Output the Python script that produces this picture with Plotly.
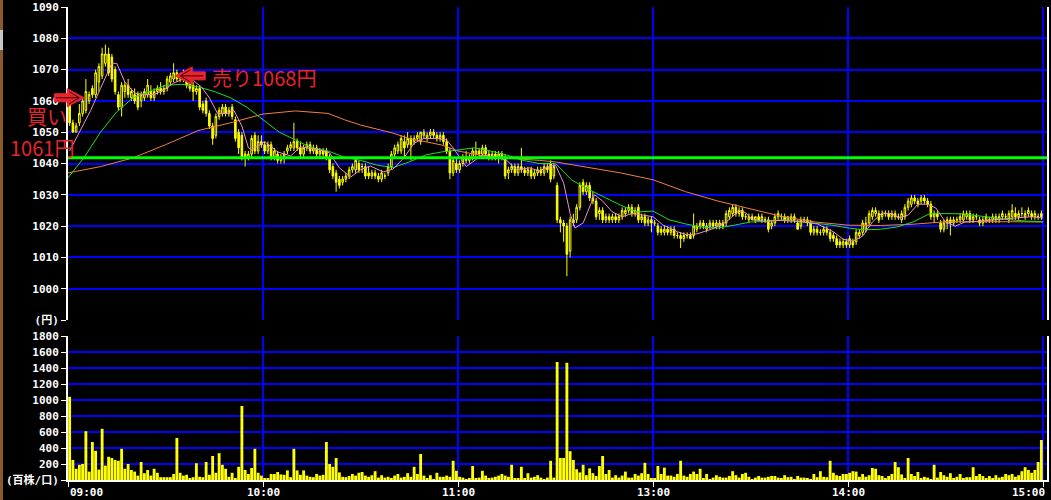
import numpy as np
import plotly.graph_objs as go

# 1分足 09:00-11:30 / 12:30-15:00 (昼休みは詰めて表示) -> 0..299 分
open_ = [
    1059, 1053, 1050, 1053, 1056, 1057, 1060, 1064, 1062, 1066,
    1068, 1072, 1075, 1074, 1070, 1062, 1058, 1063, 1065, 1061,
    1062, 1062, 1060, 1061, 1062, 1063, 1061, 1063, 1064, 1063,
    1064, 1066, 1067, 1069, 1067, 1068, 1067, 1066, 1065, 1063,
    1064, 1059, 1060, 1056, 1052, 1049, 1055, 1056, 1058, 1056,
    1058, 1054, 1050, 1049, 1043, 1042, 1043, 1049, 1044, 1047,
    1046, 1044, 1046, 1042, 1043, 1041, 1042, 1044, 1045, 1045,
    1047, 1045, 1043, 1045, 1046, 1044, 1045, 1043, 1044, 1044,
    1042, 1039, 1037, 1035, 1034, 1035, 1036, 1038, 1038, 1040,
    1039, 1039, 1037, 1036, 1037, 1036, 1035, 1036, 1037, 1039,
    1043, 1044, 1044, 1047, 1046, 1048, 1047, 1048, 1047, 1049,
    1048, 1049, 1050, 1049, 1048, 1049, 1047, 1044, 1037, 1040,
    1038, 1040, 1042, 1041, 1042, 1043, 1044, 1043, 1045, 1043,
    1042, 1043, 1042, 1043, 1042, 1037, 1038, 1039, 1037, 1039,
    1038, 1037, 1038, 1036, 1037, 1038, 1037, 1039, 1040, 1036,
    1033, 1022, 1021, 1020, 1012, 1022, 1022, 1026, 1034, 1031,
    1033, 1029, 1028, 1024, 1025, 1022, 1023, 1022, 1023, 1022,
    1023, 1024, 1025, 1026, 1024, 1026, 1022, 1023, 1021, 1022,
    1021, 1020, 1019, 1018, 1019, 1018, 1019, 1017, 1017, 1016,
    1017, 1017, 1017, 1019, 1020, 1021, 1019, 1020, 1021, 1020,
    1020, 1021, 1021, 1023, 1024, 1026, 1024, 1025, 1023, 1022,
    1023, 1022, 1023, 1022, 1022, 1022, 1020, 1021, 1023, 1023,
    1023, 1022, 1022, 1023, 1021, 1020, 1022, 1022, 1021, 1018,
    1019, 1018, 1018, 1019, 1018, 1017, 1016, 1015, 1014, 1015,
    1014, 1015, 1015, 1017, 1018, 1019, 1021, 1023, 1024, 1024,
    1023, 1024, 1024, 1023, 1024, 1023, 1022, 1023, 1026, 1027,
    1029, 1028, 1028, 1029, 1028, 1027, 1023, 1024, 1021, 1019,
    1021, 1022, 1021, 1022, 1022, 1022, 1023, 1024, 1022, 1023,
    1022, 1021, 1022, 1022, 1022, 1023, 1022, 1023, 1023, 1022,
    1023, 1024, 1023, 1024, 1023, 1024, 1024, 1023, 1023, 1024,
]
high = [
    1060, 1054, 1053, 1059, 1061, 1067, 1063, 1065, 1070, 1072,
    1077, 1078, 1077, 1075, 1071, 1063, 1066, 1066, 1067, 1064,
    1064, 1063, 1063, 1064, 1067, 1065, 1064, 1065, 1066, 1065,
    1068, 1069, 1072, 1070, 1069, 1070, 1068, 1067, 1066, 1065,
    1065, 1060, 1061, 1057, 1053, 1056, 1058, 1059, 1059, 1058,
    1059, 1055, 1051, 1050, 1044, 1044, 1049, 1050, 1049, 1049,
    1047, 1047, 1047, 1045, 1044, 1043, 1044, 1046, 1047, 1053,
    1048, 1047, 1046, 1047, 1047, 1046, 1046, 1045, 1045, 1045,
    1043, 1040, 1038, 1036, 1036, 1037, 1039, 1040, 1042, 1041,
    1040, 1040, 1039, 1038, 1038, 1037, 1038, 1037, 1040, 1044,
    1046, 1047, 1049, 1049, 1050, 1049, 1049, 1050, 1050, 1051,
    1050, 1051, 1051, 1050, 1050, 1050, 1048, 1045, 1042, 1042,
    1041, 1043, 1044, 1043, 1045, 1047, 1045, 1046, 1046, 1044,
    1044, 1044, 1044, 1044, 1043, 1039, 1040, 1040, 1040, 1045,
    1039, 1039, 1039, 1038, 1039, 1039, 1040, 1040, 1041, 1040,
    1034, 1023, 1022, 1021, 1023, 1024, 1027, 1034, 1035, 1034,
    1034, 1031, 1029, 1026, 1026, 1024, 1024, 1024, 1024, 1024,
    1026, 1026, 1027, 1027, 1026, 1027, 1024, 1024, 1023, 1023,
    1022, 1021, 1020, 1020, 1020, 1020, 1020, 1018, 1018, 1018,
    1018, 1018, 1024, 1021, 1022, 1022, 1021, 1022, 1022, 1022,
    1022, 1022, 1025, 1026, 1027, 1027, 1026, 1026, 1024, 1024,
    1024, 1023, 1024, 1024, 1023, 1023, 1022, 1024, 1025, 1024,
    1024, 1023, 1024, 1024, 1022, 1023, 1023, 1023, 1022, 1020,
    1020, 1019, 1020, 1020, 1019, 1018, 1017, 1016, 1016, 1016,
    1017, 1016, 1019, 1019, 1022, 1023, 1025, 1026, 1026, 1025,
    1025, 1025, 1025, 1025, 1025, 1024, 1025, 1027, 1029, 1030,
    1030, 1029, 1030, 1030, 1029, 1028, 1025, 1025, 1022, 1022,
    1023, 1023, 1023, 1023, 1024, 1025, 1025, 1025, 1024, 1024,
    1023, 1023, 1024, 1023, 1024, 1024, 1024, 1025, 1024, 1025,
    1027, 1026, 1025, 1026, 1025, 1026, 1025, 1025, 1024, 1025,
]
low = [
    1052, 1050, 1050, 1052, 1055, 1056, 1059, 1061, 1061, 1063,
    1067, 1071, 1068, 1066, 1062, 1057, 1055, 1061, 1061, 1060,
    1059, 1057, 1058, 1060, 1061, 1060, 1060, 1062, 1062, 1062,
    1063, 1065, 1066, 1066, 1066, 1066, 1064, 1063, 1060, 1062,
    1057, 1056, 1055, 1051, 1046, 1048, 1054, 1055, 1055, 1055,
    1054, 1047, 1043, 1041, 1039, 1041, 1042, 1043, 1043, 1045,
    1043, 1043, 1041, 1041, 1040, 1040, 1040, 1043, 1044, 1044,
    1044, 1042, 1042, 1044, 1043, 1043, 1042, 1042, 1042, 1041,
    1037, 1035, 1031, 1032, 1033, 1034, 1035, 1037, 1037, 1037,
    1037, 1035, 1035, 1035, 1035, 1034, 1034, 1035, 1036, 1038,
    1042, 1043, 1043, 1042, 1045, 1041, 1046, 1047, 1046, 1048,
    1047, 1048, 1048, 1047, 1047, 1046, 1043, 1035, 1036, 1037,
    1037, 1039, 1040, 1040, 1041, 1042, 1042, 1042, 1042, 1041,
    1041, 1041, 1040, 1041, 1035, 1035, 1037, 1036, 1036, 1037,
    1036, 1036, 1035, 1035, 1036, 1036, 1036, 1037, 1034, 1035,
    1021, 1018, 1015, 1004, 1010, 1020, 1021, 1025, 1030, 1030,
    1028, 1027, 1022, 1022, 1021, 1021, 1021, 1021, 1021, 1021,
    1022, 1023, 1024, 1023, 1023, 1021, 1021, 1020, 1020, 1018,
    1020, 1017, 1017, 1017, 1017, 1017, 1016, 1016, 1013, 1015,
    1016, 1016, 1016, 1018, 1019, 1019, 1018, 1019, 1019, 1019,
    1019, 1019, 1020, 1022, 1023, 1023, 1023, 1022, 1022, 1021,
    1022, 1021, 1022, 1021, 1021, 1018, 1019, 1020, 1022, 1022,
    1021, 1021, 1021, 1021, 1019, 1019, 1021, 1020, 1017, 1017,
    1017, 1017, 1017, 1017, 1015, 1015, 1013, 1013, 1013, 1013,
    1013, 1013, 1014, 1016, 1017, 1018, 1020, 1022, 1023, 1021,
    1022, 1023, 1022, 1022, 1022, 1022, 1021, 1022, 1025, 1026,
    1027, 1026, 1027, 1027, 1026, 1022, 1021, 1022, 1018, 1018,
    1019, 1017, 1020, 1021, 1021, 1021, 1022, 1021, 1021, 1022,
    1020, 1020, 1021, 1021, 1021, 1021, 1021, 1022, 1022, 1021,
    1022, 1022, 1022, 1023, 1022, 1023, 1022, 1022, 1022, 1022,
]
close = [
    1053, 1050, 1052, 1056, 1060, 1063, 1062, 1062, 1069, 1071,
    1075, 1075, 1069, 1067, 1063, 1058, 1065, 1065, 1062, 1063,
    1060, 1058, 1062, 1063, 1065, 1061, 1063, 1064, 1063, 1064,
    1067, 1068, 1069, 1067, 1068, 1067, 1065, 1064, 1063, 1064,
    1058, 1057, 1056, 1052, 1048, 1055, 1057, 1058, 1056, 1057,
    1055, 1048, 1045, 1042, 1042, 1043, 1048, 1044, 1047, 1046,
    1044, 1046, 1042, 1044, 1041, 1042, 1043, 1045, 1046, 1047,
    1045, 1043, 1045, 1046, 1044, 1045, 1043, 1044, 1043, 1042,
    1038, 1036, 1034, 1033, 1035, 1036, 1038, 1039, 1041, 1038,
    1039, 1036, 1036, 1037, 1036, 1035, 1037, 1036, 1039, 1043,
    1045, 1046, 1048, 1045, 1048, 1046, 1048, 1049, 1050, 1050,
    1049, 1050, 1049, 1048, 1049, 1047, 1044, 1037, 1041, 1038,
    1040, 1042, 1041, 1042, 1044, 1044, 1043, 1045, 1043, 1042,
    1043, 1042, 1043, 1042, 1036, 1038, 1039, 1037, 1039, 1038,
    1037, 1038, 1036, 1037, 1038, 1037, 1039, 1038, 1035, 1039,
    1022, 1021, 1020, 1011, 1022, 1021, 1026, 1033, 1031, 1033,
    1029, 1028, 1023, 1025, 1022, 1023, 1022, 1023, 1022, 1023,
    1025, 1025, 1026, 1024, 1025, 1022, 1023, 1021, 1022, 1021,
    1021, 1018, 1018, 1019, 1018, 1019, 1017, 1017, 1016, 1017,
    1017, 1016, 1020, 1020, 1021, 1020, 1020, 1021, 1020, 1021,
    1021, 1020, 1024, 1025, 1026, 1024, 1025, 1023, 1023, 1023,
    1022, 1023, 1022, 1023, 1022, 1019, 1021, 1023, 1024, 1023,
    1022, 1023, 1023, 1022, 1019, 1022, 1022, 1021, 1018, 1019,
    1018, 1018, 1019, 1018, 1016, 1016, 1014, 1014, 1015, 1014,
    1016, 1014, 1018, 1018, 1021, 1021, 1024, 1025, 1025, 1022,
    1024, 1024, 1023, 1024, 1023, 1023, 1024, 1026, 1028, 1029,
    1028, 1027, 1029, 1028, 1027, 1023, 1024, 1023, 1019, 1021,
    1022, 1021, 1022, 1022, 1023, 1024, 1024, 1022, 1023, 1023,
    1021, 1022, 1023, 1022, 1023, 1022, 1023, 1024, 1023, 1024,
    1025, 1023, 1024, 1024, 1024, 1025, 1023, 1024, 1023, 1023,
]
# 出来高 (百株)
volume = [
    1040, 250, 140, 190, 200, 610, 105, 475, 365, 130,
    640, 180, 290, 275, 250, 240, 390, 140, 200, 125,
    105, 55, 225, 85, 125, 55, 140, 90, 35, 35,
    35, 35, 75, 525, 90, 55, 65, 25, 35, 210,
    40, 35, 225, 65, 300, 90, 335, 190, 140, 40,
    90, 20, 165, 925, 125, 75, 150, 390, 90, 55,
    20, 25, 75, 75, 100, 70, 65, 120, 35, 390,
    120, 65, 120, 55, 40, 35, 75, 55, 65, 475,
    200, 165, 275, 95, 40, 35, 50, 75, 55, 90,
    100, 55, 40, 60, 110, 30, 60, 30, 40, 20,
    55, 75, 30, 40, 85, 40, 165, 75, 325, 55,
    20, 60, 10, 90, 40, 40, 55, 40, 240, 115,
    40, 30, 10, 20, 175, 20, 30, 115, 55, 20,
    30, 40, 55, 75, 55, 40, 190, 20, 20, 165,
    20, 85, 30, 40, 60, 30, 10, 30, 240, 30,
    1475, 275, 275, 1465, 360, 250, 135, 95, 190, 60,
    145, 85, 50, 175, 300, 75, 125, 30, 60, 30,
    55, 105, 30, 30, 75, 55, 85, 215, 75, 20,
    20, 175, 75, 155, 55, 55, 40, 75, 240, 55,
    40, 75, 105, 75, 140, 20, 75, 12, 30, 60,
    40, 30, 30, 50, 110, 60, 30, 75, 90, 40,
    12, 30, 50, 30, 30, 40, 50, 50, 30, 20,
    60, 35, 40, 12, 50, 30, 30, 20, 12, 75,
    35, 110, 40, 35, 240, 90, 60, 50, 75, 75,
    90, 110, 105, 40, 75, 40, 60, 150, 140, 60,
    50, 20, 50, 75, 225, 160, 70, 20, 275, 75,
    50, 100, 20, 40, 30, 12, 190, 30, 100, 60,
    40, 85, 20, 40, 75, 20, 35, 35, 160, 50,
    75, 50, 20, 50, 20, 60, 30, 40, 75, 60,
    75, 40, 60, 110, 160, 125, 90, 125, 225, 500,
]

# 移動平均線 (画面から読み取り)
pink_x = [0.5, 4, 7, 10, 13.5, 15, 17.5, 20.5, 23.5, 26.5, 29.5, 32.5, 35.5, 38.5, 41,
          43.5, 46, 49, 51, 53.5, 55.5, 56.5, 60.5, 64.5, 68.5, 71.5, 76.5, 80.5, 83.5,
          87, 90, 93, 97, 100, 103.5, 106.5, 109.5, 113.5, 116.5, 118.5, 121.5, 122.5,
          124.5, 127.5, 132, 135, 138, 142, 145, 148, 150, 152.5, 154.5, 156, 158.5,
          160.5, 162, 164.5, 167.5, 170.5, 173.5, 177, 180, 183, 187.5, 190.5, 193.5,
          198.5, 202.5, 206.5, 208.5, 210.5, 214.5, 219.5, 225, 230.5, 235.5, 238.5,
          241.5, 244.5, 247.5, 250.5, 253.5, 255.5, 258.5, 261.5, 264.5, 267, 270, 273,
          276, 281, 286.5, 291.5, 296.5, 300]
pink_y = [1044, 1051, 1057, 1064, 1072, 1072, 1066, 1062.5, 1062, 1062, 1063.5, 1065.7,
          1067, 1066.5, 1064.5, 1061, 1056, 1056, 1057, 1052, 1045, 1044.3, 1047, 1043.7,
          1042.4, 1045.3, 1044.6, 1043.4, 1038.6, 1035.7, 1038, 1039.2, 1037.3, 1038.2,
          1042, 1046.5, 1048, 1048, 1047.5, 1045, 1040.5, 1039, 1040.5, 1042.7, 1042,
          1041, 1038, 1038.6, 1037.6, 1039, 1039.5, 1033.8, 1024, 1019.4, 1021, 1026,
          1030, 1028, 1024.5, 1023, 1024, 1023.5, 1023, 1020.4, 1018.2, 1017.2, 1017.5,
          1019.2, 1021.3, 1025, 1024.3, 1022, 1021.6, 1021.8, 1021.5, 1020.7, 1018.2,
          1015.8, 1015.2, 1016.8, 1021.3, 1024.2, 1024, 1022.6, 1023.5, 1027, 1027,
          1025.8, 1021.3, 1020, 1021.3, 1021.6, 1022, 1022.6, 1023, 1022.6]

green_x = list(range(0, 301, 5))
green_y = [1035.4, 1042, 1050, 1056.5, 1061, 1063, 1065, 1065.3, 1064.5, 1063,
           1061, 1058, 1054, 1050, 1047.5, 1045, 1044, 1042, 1041, 1039.5,
           1038.7, 1040.5, 1042.7, 1043.7, 1044.3, 1045, 1044, 1042.7, 1041, 1040,
           1040, 1034.7, 1031.8, 1029.3, 1026.7, 1024.5, 1024.8, 1022, 1020.7, 1019.7,
           1019.4, 1020.3, 1021.3, 1021.5, 1022, 1021.5, 1021, 1020.3, 1019.4, 1018.8,
           1019, 1019.7, 1021.3, 1023.9, 1024, 1023.9, 1023.3, 1022.6, 1022, 1021.6,
           1021.4]

orange_x = [0, 10, 20, 30, 40, 50, 60, 70, 80, 85, 90, 95, 100, 105, 110, 115, 120,
            125, 130, 135, 140, 145, 150, 160, 170, 180, 190, 200, 210, 220, 230, 240,
            250, 260, 270, 280, 290, 300]
orange_y = [1037, 1039, 1041.8, 1046, 1050.5, 1053, 1055.8, 1056.8, 1056, 1054, 1052.3,
            1051, 1049.7, 1048, 1046.9, 1045.9, 1044, 1043, 1042, 1041.7, 1041.4, 1041,
            1040.5, 1038.7, 1037, 1034.8, 1031, 1028, 1025.5, 1023, 1021.3, 1020.3,
            1020.2, 1020.6, 1021.4, 1021.5, 1021.4, 1021.3]

level_line = 1041.8
buy_min, buy_price = 5, 1061
sell_min, sell_price = 33, 1068

time_vals = [0, 60, 120, 180, 240, 300]
time_text = ['09:00', '10:00', '11:00', '13:00', '14:00', '15:00']
price_ticks = list(range(990, 1091, 10))
price_text = ['(円)'] + [str(v) for v in price_ticks[1:]]
vol_ticks = list(range(0, 1801, 200))
vol_text = ['(百株/口)'] + [str(v) for v in vol_ticks[1:]]

minutes = np.arange(300) + 0.5

BLUE = '#0000ff'
YELLOW = '#ffff00'
RED = '#e8242c'
X_MAX = 301.23
PLOT_W, PLOT_H = 979, 473
PRICE_DOM = [(480 - 320) / PLOT_H, 1]
VOL_DOM = [0, (480 - 336) / PLOT_H]
TICK_FONT = dict(family='DejaVu Sans Mono, Noto Sans CJK JP', size=11, color='white', weight='bold')
TEXT_FONT = dict(family='Noto Sans CJK JP', size=20, color=RED)


def to_paper(m, p):
    return m / X_MAX, PRICE_DOM[0] + (p - 990) / 100 * (PRICE_DOM[1] - PRICE_DOM[0])


def arrow_shapes(m, p, direction):
    tx, ty = to_paper(m, p)
    def pt(dx, dy):
        return f'{tx + direction * dx / PLOT_W},{ty + dy / PLOT_H}'
    outline = [(0, 0), (-17, 9), (-17, 4), (-30, 4), (-30, -4), (-17, -4), (-17, -9)]
    body = 'M ' + ' L '.join(pt(dx, dy) for dx, dy in outline) + ' Z'
    inner = f'M {pt(-28, 0)} L {pt(-6, 0)} M {pt(-15, 6)} L {pt(-5, 0)} L {pt(-15, -6)}'
    return [
        dict(type='path', xref='paper', yref='paper', path=body, fillcolor=RED, line=dict(color=RED, width=1)),
        dict(type='path', xref='paper', yref='paper', path=inner, line=dict(color='#3a0000', width=1)),
    ]


fig = go.Figure()

fig.add_trace(go.Candlestick(
    x=minutes, open=open_, high=high, low=low, close=close,
    increasing=dict(line=dict(color=YELLOW, width=1), fillcolor='black'),
    decreasing=dict(line=dict(color=YELLOW, width=1), fillcolor=YELLOW),
    whiskerwidth=0, xaxis='x', yaxis='y', hoverinfo='skip'))

fig.add_trace(go.Scatter(x=orange_x, y=orange_y, mode='lines', line=dict(color='#f08040', width=1), xaxis='x', yaxis='y'))
fig.add_trace(go.Scatter(x=green_x, y=green_y, mode='lines', line=dict(color='#22dd22', width=1), xaxis='x', yaxis='y'))
fig.add_trace(go.Scatter(x=pink_x, y=pink_y, mode='lines', line=dict(color='#ee90d0', width=1), xaxis='x', yaxis='y'))

fig.add_trace(go.Bar(x=minutes, y=volume, marker=dict(color=YELLOW, line=dict(width=0)), xaxis='x2', yaxis='y2', hoverinfo='skip'))

shapes = [
    dict(type='line', xref='x', yref='y', x0=0, x1=X_MAX, y0=level_line, y1=level_line,
         line=dict(color='#00ff00', width=3)),
    # ウィンドウ左端
    dict(type='rect', xref='paper', yref='paper', x0=-68 / PLOT_W, x1=-65 / PLOT_W,
         y0=-20 / PLOT_H, y1=487 / PLOT_H, fillcolor='#8b5a2b', line=dict(width=0)),
    dict(type='rect', xref='paper', yref='paper', x0=-68 / PLOT_W, x1=-65 / PLOT_W,
         y0=430 / PLOT_H, y1=450 / PLOT_H, fillcolor='#c8c8c8', line=dict(width=0)),
]
shapes += arrow_shapes(buy_min, buy_price, 1)
shapes += arrow_shapes(sell_min, sell_price, -1)

bx, by = to_paper(buy_min, buy_price)
sx, sy = to_paper(sell_min, sell_price)
annotations = [
    dict(xref='paper', yref='paper', x=bx, y=by, xshift=-37, yshift=-19, text='買い',
         showarrow=False, font=TEXT_FONT, xanchor='center', yanchor='middle'),
    dict(xref='paper', yref='paper', x=bx, y=by, xshift=-42, yshift=-50, text=f'{buy_price}円',
         showarrow=False, font=TEXT_FONT, xanchor='center', yanchor='middle'),
    dict(xref='paper', yref='paper', x=sx, y=sy, xshift=35, yshift=-2, text=f'売り{sell_price}円',
         showarrow=False, font=TEXT_FONT, xanchor='left', yanchor='middle'),
]
for i, (v, t) in enumerate(zip(time_vals, time_text)):
    anchor = 'left' if i == 0 else ('right' if i == len(time_vals) - 1 else 'center')
    xpos = X_MAX if i == len(time_vals) - 1 else v
    annotations.append(dict(xref='x2', yref='paper', x=xpos, y=0, yshift=-12, text=t,
                            showarrow=False, font=TICK_FONT, xanchor=anchor, yanchor='middle'))

fig.update_layout(
    width=1051, height=500,
    margin=dict(l=68, r=4, t=7, b=20),
    paper_bgcolor='black', plot_bgcolor='black',
    showlegend=False, boxgap=0.3, bargap=0.12,
    shapes=shapes, annotations=annotations,
    xaxis=dict(domain=[0, 1], anchor='y', range=[0, X_MAX], tickvals=time_vals, showticklabels=False,
               showgrid=True, gridcolor=BLUE, gridwidth=2, zeroline=False, ticks='', automargin=False,
               rangeslider=dict(visible=False)),
    yaxis=dict(domain=PRICE_DOM, anchor='x', range=[990, 1090], tickvals=price_ticks, ticktext=price_text,
               showgrid=True, gridcolor=BLUE, gridwidth=2, zeroline=False, automargin=False,
               showline=True, linecolor='white', linewidth=2, mirror=True,
               ticks='outside', ticklen=5, tickcolor='white', tickwidth=1, tickfont=TICK_FONT),
    xaxis2=dict(domain=[0, 1], anchor='y2', matches='x', range=[0, X_MAX], tickvals=time_vals,
                showticklabels=False, showgrid=True, gridcolor=BLUE, gridwidth=2, zeroline=False,
                showline=True, linecolor='white', linewidth=2, automargin=False,
                ticks='outside', ticklen=5, tickcolor='white', tickwidth=1),
    yaxis2=dict(domain=VOL_DOM, anchor='x2', range=[0, 1800], tickvals=vol_ticks, ticktext=vol_text,
                showgrid=True, gridcolor=BLUE, gridwidth=2, zeroline=False, automargin=False,
                showline=True, linecolor='white', linewidth=2, mirror=True,
                ticks='outside', ticklen=5, tickcolor='white', tickwidth=1, tickfont=TICK_FONT),
)

# ページ余白をなくして図を左上に合わせる
fig.write_html("out.html", config={'displayModeBar': False},
               post_script="document.body.style.margin='0';document.body.style.background='black';document.body.style.overflow='hidden';")
